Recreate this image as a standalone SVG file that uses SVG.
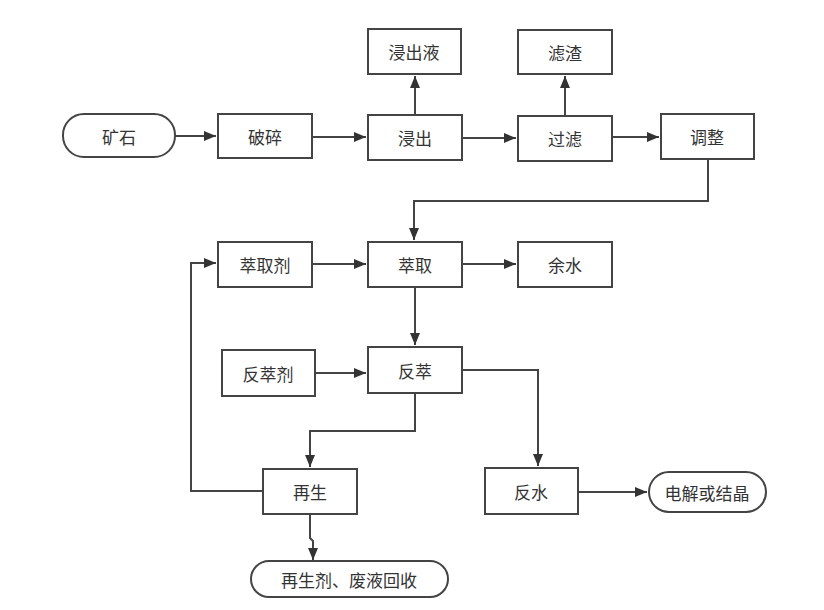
<svg xmlns="http://www.w3.org/2000/svg" width="824" height="610" viewBox="0 0 824 610">
<style>
.b{fill:#fff;stroke:#444;stroke-width:2}
.t{font-family:"Noto Sans CJK SC","Noto Sans",sans-serif;font-size:17px;fill:#333;text-anchor:middle;dominant-baseline:central}
.c{fill:none;stroke:#444;stroke-width:2;marker-end:url(#a)}
</style>
<defs>
<marker id="a" viewBox="0 0 12 10" refX="12" refY="5" markerWidth="12" markerHeight="10" markerUnits="userSpaceOnUse" orient="auto"><path d="M0,0 L12,5 L0,10 z" fill="#333"/></marker>
</defs>
<rect width="824" height="610" fill="#fff"/>
<g id="connectors">
<path class="c" d="M175,136 H216"/>
<path class="c" d="M312,137 H366"/>
<path class="c" d="M415,115 V76"/>
<path class="c" d="M462,138 H516"/>
<path class="c" d="M565,116 V76"/>
<path class="c" d="M612,137 H659"/>
<path class="c" d="M708,159 V201 H414 V240"/>
<path class="c" d="M312,264 H366"/>
<path class="c" d="M462,264 H516"/>
<path class="c" d="M415,287 V345"/>
<path class="c" d="M315,373 H366"/>
<path class="c" d="M415,393 V431 H310 V467"/>
<path class="c" d="M462,370 H538 V466"/>
<path class="c" d="M263,491 H191 V263 H216"/>
<path class="c" d="M310,514 V538 L313,541 V560"/>
<path class="c" d="M578,492 H647"/>
</g>
<g id="n1"><rect class="b" x="63" y="114" width="112" height="43" rx="21"/><text class="t" x="119" y="136">矿石</text></g>
<g id="n2"><rect class="b" x="218" y="114" width="94" height="44"/><text class="t" x="265" y="136">破碎</text></g>
<g id="n3"><rect class="b" x="368" y="115" width="94" height="45"/><text class="t" x="415" y="137">浸出</text></g>
<g id="n4"><rect class="b" x="368" y="29" width="93" height="45"/><text class="t" x="414" y="51">浸出液</text></g>
<g id="n5"><rect class="b" x="518" y="116" width="94" height="45"/><text class="t" x="565" y="138">过滤</text></g>
<g id="n6"><rect class="b" x="518" y="30" width="94" height="44"/><text class="t" x="565" y="52">滤渣</text></g>
<g id="n7"><rect class="b" x="661" y="114" width="93" height="45"/><text class="t" x="707" y="136">调整</text></g>
<g id="n8"><rect class="b" x="218" y="242" width="94" height="45"/><text class="t" x="265" y="264">萃取剂</text></g>
<g id="n9"><rect class="b" x="368" y="242" width="94" height="45"/><text class="t" x="415" y="264">萃取</text></g>
<g id="n10"><rect class="b" x="518" y="242" width="94" height="45"/><text class="t" x="565" y="264">余水</text></g>
<g id="n11"><rect class="b" x="222" y="350" width="93" height="46"/><text class="t" x="268" y="373">反萃剂</text></g>
<g id="n12"><rect class="b" x="368" y="347" width="94" height="46"/><text class="t" x="415" y="370">反萃</text></g>
<g id="n13"><rect class="b" x="263" y="469" width="94" height="45"/><text class="t" x="310" y="491">再生</text></g>
<g id="n14"><rect class="b" x="485" y="468" width="93" height="46"/><text class="t" x="531" y="491">反水</text></g>
<g id="n15"><rect class="b" x="649" y="472" width="117" height="40" rx="20"/><text class="t" x="707" y="492">电解或结晶</text></g>
<g id="n16"><rect class="b" x="251" y="561" width="197" height="36" rx="18"/><text class="t" x="349" y="579">再生剂、废液回收</text></g>
</svg>
